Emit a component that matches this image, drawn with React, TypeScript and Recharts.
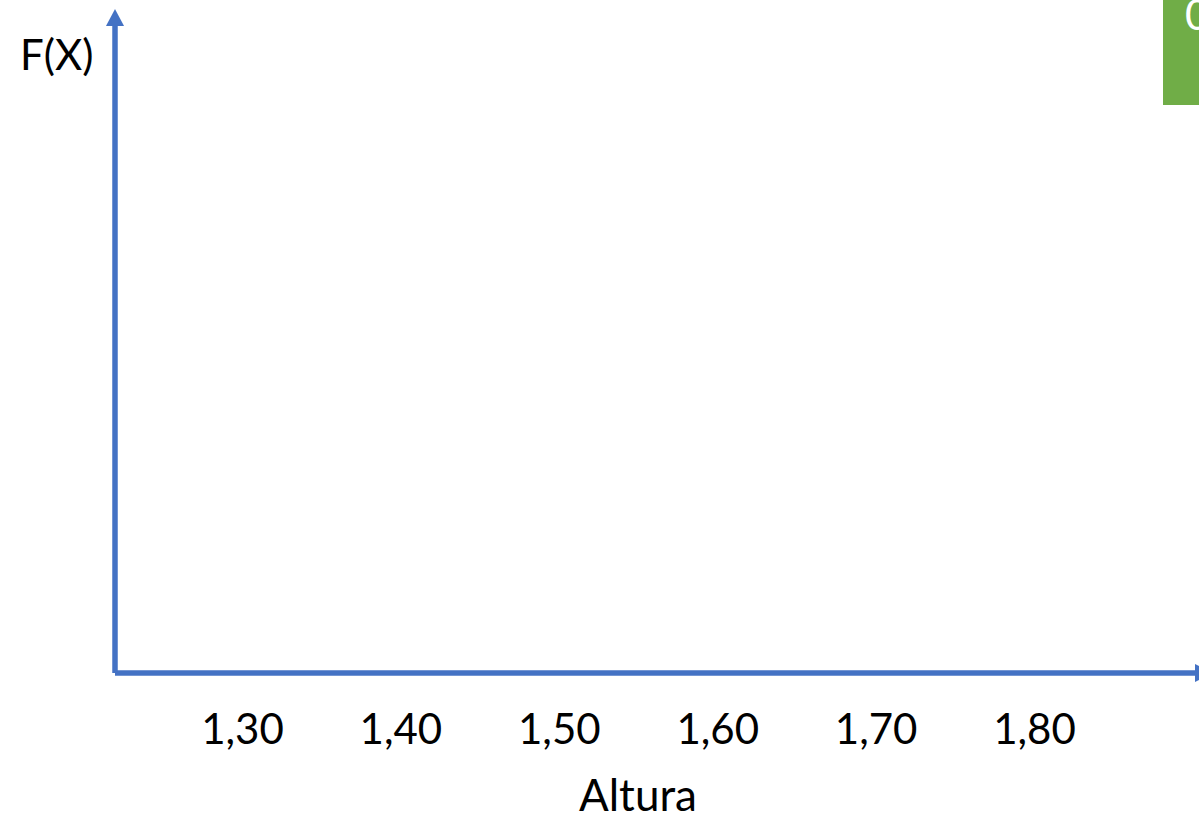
import React from 'react';
import { ScatterChart, Scatter, XAxis, YAxis, Customized } from 'recharts';

// heights on the x axis and their printed labels
const heights = [1.3, 1.4, 1.5, 1.6, 1.7, 1.8];
const heightLabels = ['1,30', '1,40', '1,50', '1,60', '1,70', '1,80'];
// the plot is empty: no F(X) points drawn yet
const fxPoints: { x: number; y: number }[] = [];

const BLUE = '#4472C4';
const FONT = 'Lato, "Open Sans", sans-serif';

const W = 1199;
const H = 824;
const margin = { top: 26, right: 4, bottom: 0, left: 0 };
const yAxisWidth = 115;
const xAxisHeight = 151;

const Decorations = () => {
  const left = margin.left + yAxisWidth;
  const top = margin.top;
  const right = W - margin.right;
  const bottom = H - margin.bottom - xAxisHeight;
  return (
    <g>
      {/* arrow heads */}
      <polygon points={`${left},${top - 17} ${left - 9},${top} ${left + 9},${top}`} fill={BLUE} />
      <polygon points={`${right},${bottom - 9} ${right},${bottom + 9} ${right + 17},${bottom}`} fill={BLUE} />
      {/* green box cut by the right edge */}
      <rect x={1163} y={0} width={40} height={105} fill="#70AD47" />
      <text x={1185} y={30} fill="#fff" fontSize={42} fontFamily={FONT}>0</text>
    </g>
  );
};

const HeightTick = (props: any) => {
  const { x, payload, index } = props;
  const axisY = H - margin.bottom - xAxisHeight;
  return (
    <text x={x} y={axisY + 71} textAnchor="middle" fontSize={42} fontFamily={FONT} fill="#000">
      {heightLabels[index] ?? String(payload.value)}
    </text>
  );
};

const App: React.FC = () => {
  return (
    <div style={{ position: 'absolute', left: 0, top: 0, width: W, height: H, background: '#fff' }}>
      <ScatterChart width={W} height={H} margin={margin}>
        <XAxis
          type="number"
          dataKey="x"
          domain={[1.2195, 1.9013]}
          ticks={heights}
          interval={0}
          tick={<HeightTick />}
          tickLine={false}
          axisLine={{ stroke: BLUE, strokeWidth: 5.5 }}
          height={xAxisHeight}
          allowDataOverflow
          label={{
            value: 'Altura',
            position: 'insideBottom',
            content: () => (
              <text x={638} y={811} textAnchor="middle" fontSize={44} fontFamily={FONT} fill="#000">Altura</text>
            ),
          }}
        />
        <YAxis
          type="number"
          dataKey="y"
          domain={[0, 1]}
          tick={false}
          tickLine={false}
          axisLine={{ stroke: BLUE, strokeWidth: 5.5 }}
          width={yAxisWidth}
          label={{
            value: 'F(X)',
            position: 'insideTopLeft',
            content: () => (
              <text x={20} y={70} fontSize={42} fontFamily={FONT} fill="#000">F(X)</text>
            ),
          }}
        />
        <Scatter data={fxPoints} fill={BLUE} isAnimationActive={false} />
        <Customized component={<Decorations />} />
      </ScatterChart>
    </div>
  );
};

export default App;
